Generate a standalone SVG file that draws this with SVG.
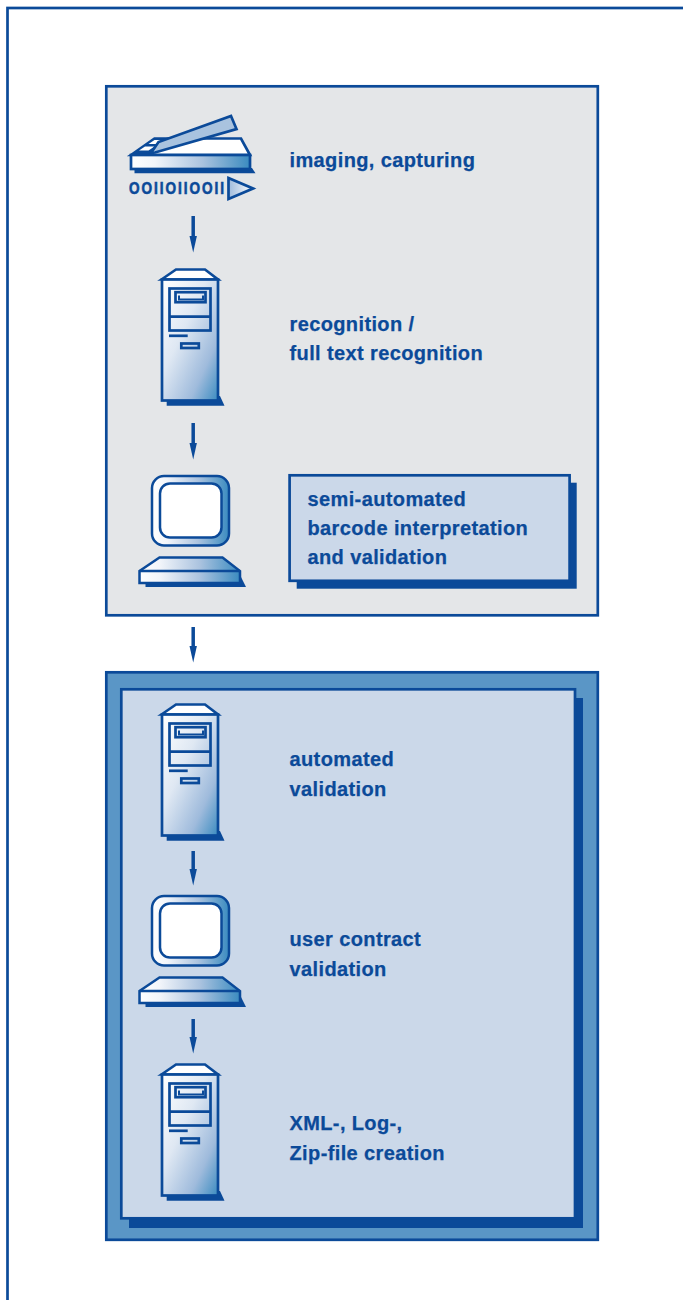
<svg xmlns="http://www.w3.org/2000/svg" width="683" height="1300" viewBox="0 0 683 1300">
<style>
.l{font-family:"Liberation Sans",Arial,sans-serif;font-weight:700;font-size:20px;letter-spacing:.38px;fill:#0b4a99;stroke:#0b4a99;stroke-width:.25}
.s{stroke:#0b4a99;stroke-width:2.7;stroke-linejoin:miter}
.b{stroke:#0b4a99;stroke-width:2.5}
.t{stroke:#0b4a99;stroke-width:2.7;fill:none}
.d{fill:#0b4a99}
.c{stroke:#0b4a99;stroke-width:3.500;fill:none;marker-end:url(#a)}
</style>
<defs>
<linearGradient id="h" x1="0" y1="0" x2="1" y2="0"><stop offset="0" stop-color="#fff"/><stop offset=".2" stop-color="#f2f5fa"/><stop offset=".6" stop-color="#abc3df"/><stop offset="1" stop-color="#3a8bc0"/></linearGradient>
<linearGradient id="r" x1="0" y1="0" x2="1" y2="0"><stop offset="0" stop-color="#9fbbdc"/><stop offset="1" stop-color="#fff"/></linearGradient>
<linearGradient id="g" x1="0" y1="0" x2="1" y2="1"><stop offset="0" stop-color="#fff"/><stop offset=".4" stop-color="#dfe8f3"/><stop offset=".75" stop-color="#9fbbdc"/><stop offset="1" stop-color="#3a8bc0"/></linearGradient>
<marker id="a" viewBox="0 0 17 8" refX="7" refY="4" markerWidth="17" markerHeight="8" markerUnits="userSpaceOnUse" orient="auto"><path d="M0 0.200L17 4L0 7.800Z" fill="#0b4a99"/></marker>
<g id="tower">
<path class="d" d="M166.700 396H220L224.500 405.700H166.700Z"/>
<path class="s" fill="#fff" d="M161.500 279.500L176 269.500H205L218 279.500Z"/>
<rect class="s" x="162" y="279.500" width="56" height="121" fill="url(#g)"/>
<rect class="t" x="169.500" y="288.500" width="41" height="42"/>
<path class="t" d="M169.500 316.700H210.500"/>
<rect class="t" x="175.500" y="292.200" width="30" height="10"/>
<path d="M179 295.500V299.500H203V295.500" fill="none" stroke="#0b4a99" stroke-width="2"/>
<path class="t" d="M169 335.800H187.700"/>
<rect class="t" x="181.300" y="343.500" width="17.500" height="4.500" fill="#e8eef6"/>
</g>
<g id="monitor">
<path class="d" d="M145.500 575H240L246 587H145.500Z"/>
<rect class="b" x="152" y="476" width="77" height="69.500" rx="12" fill="url(#h)"/>
<rect class="b" x="160" y="483.500" width="61.500" height="54" rx="10" fill="#fff"/>
<path class="b" fill="url(#h)" d="M139.500 571L159.500 557.500H222.500L240 571V583H139.500Z"/>
<path class="b" fill="none" d="M139.500 571H240"/>
</g>
</defs>
<rect id="page" x="7.500" y="8" width="700" height="1320" fill="#fff" class="s"/>
<g id="group-capture">
<rect x="106.300" y="86.300" width="491.500" height="529" fill="#e4e6e8" class="s"/>
</g>
<g id="group-validation">
<rect x="106.300" y="672.300" width="491.500" height="567.500" fill="#5a96c6" class="s"/>
<rect x="129" y="698" width="454" height="530" class="d"/>
<rect x="121.300" y="689.300" width="453.700" height="529" fill="#cbd8e9" class="s"/>
</g>
<g id="scanner">
<path class="d" d="M134.500 168H252L255.500 173.300H134.500Z"/>
<path class="s" fill="#fff" d="M131 155L154.500 138.500H241L250 155Z"/>
<path class="d" d="M131 155L154 138H165L152 154Z"/>
<path fill="#fff" d="M154.500 140H164L158 144H148.500ZM145 146.500H154.500L148.500 150.500H139Z"/>
<path class="s" fill="#a9c3df" d="M231 116L236.500 129L155 152.500L151 153L158.500 142Z"/>
<rect class="s" x="131" y="155" width="119" height="14" fill="url(#h)"/>
<text transform="translate(129 194.300) scale(.85 1)" font-family="Liberation Sans,Arial,sans-serif" font-size="16" font-weight="700" fill="#0b4a99" stroke="#0b4a99" stroke-width=".6" textLength="111.800">OOIIOIIOOII</text>
<path class="s" fill="url(#r)" d="M228.500 178L253 188.500L228.500 199Z"/>
<text class="l" x="289.500" y="167">imaging, capturing</text>
</g>
<use href="#tower" id="tower-1"/>
<g id="recognition"><text class="l" x="289.500" y="331">recognition /</text><text class="l" x="289.500" y="360">full text recognition</text></g>
<use href="#monitor" id="monitor-1"/>
<g id="semi-automated">
<rect x="296.700" y="482.700" width="280" height="106" class="d"/>
<rect x="289.600" y="475.300" width="280" height="105.500" fill="#cbd8e9" class="s"/>
<text class="l" x="307.500" y="506">semi-automated</text><text class="l" x="307.500" y="535">barcode interpretation</text><text class="l" x="307.500" y="564">and validation</text>
</g>
<use href="#tower" id="tower-2" y="435"/>
<g id="automated"><text class="l" x="289.500" y="766">automated</text><text class="l" x="289.500" y="796">validation</text></g>
<use href="#monitor" id="monitor-2" y="420"/>
<g id="user-contract"><text class="l" x="289.500" y="946">user contract</text><text class="l" x="289.500" y="976">validation</text></g>
<use href="#tower" id="tower-3" y="795"/>
<g id="file-creation"><text class="l" x="289.500" y="1130">XML-, Log-,</text><text class="l" x="289.500" y="1160">Zip-file creation</text></g>
<g id="connectors">
<path class="c" d="M193.200 216V242.500"/>
<path class="c" d="M193.200 423V449.500"/>
<path class="c" d="M193.200 627V652.500"/>
<path class="c" d="M193.200 851V875.500"/>
<path class="c" d="M193.200 1019V1043.500"/>
</g>
</svg>
